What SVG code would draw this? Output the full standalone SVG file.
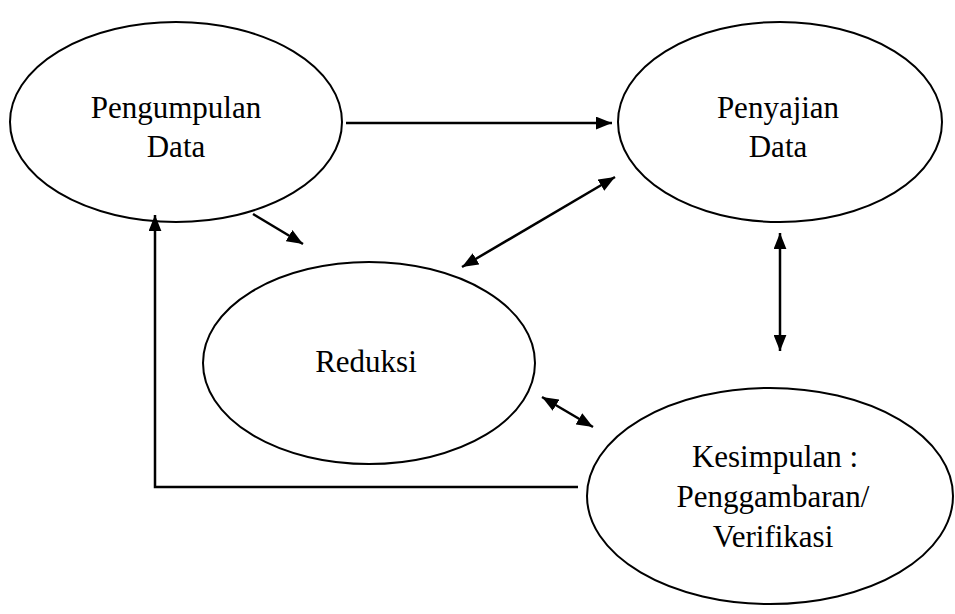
<svg xmlns="http://www.w3.org/2000/svg" width="955" height="614" viewBox="0 0 955 614">
<style>
.n ellipse{fill:#fff;stroke:#000;stroke-width:2}
.n text{font-family:'Liberation Serif','Times New Roman','DejaVu Serif',serif;font-size:31px;text-anchor:middle;fill:#000}
.c line,.c polyline{stroke:#000;stroke-width:2.5;fill:none}
</style>
<defs>
<marker id="ah" viewBox="0 0 10 8" refX="10" refY="4" markerWidth="6.5" markerHeight="5.2" markerUnits="strokeWidth" orient="auto-start-reverse">
<path d="M0,0 L10,4 L0,8 Z" fill="#000"/>
</marker>
</defs>
<g id="n1" class="n">
<ellipse cx="176" cy="122" rx="166" ry="100"/>
<text x="176" y="118">Pengumpulan</text>
<text x="176" y="157">Data</text>
</g>
<g id="n2" class="n">
<ellipse cx="780" cy="122" rx="162" ry="100"/>
<text x="778" y="118">Penyajian</text>
<text x="778" y="157">Data</text>
</g>
<g id="n3" class="n">
<ellipse cx="369" cy="363" rx="166" ry="101"/>
<text x="366" y="372">Reduksi</text>
</g>
<g id="n4" class="n">
<ellipse cx="770" cy="496" rx="183" ry="108"/>
<text x="775" y="467">Kesimpulan :</text>
<text x="773" y="507">Penggambaran/</text>
<text x="773" y="547">Verifikasi</text>
</g>
<g id="connectors" class="c">
<line x1="346" y1="123" x2="612" y2="123" marker-end="url(#ah)"/>
<line x1="253" y1="214" x2="303" y2="244" marker-end="url(#ah)"/>
<line x1="462" y1="267" x2="615" y2="177" marker-start="url(#ah)" marker-end="url(#ah)"/>
<line x1="542" y1="397" x2="593" y2="427" marker-start="url(#ah)" marker-end="url(#ah)"/>
<line x1="780" y1="233" x2="780" y2="351" marker-start="url(#ah)" marker-end="url(#ah)"/>
<polyline points="578,487 155,487 155,215" marker-end="url(#ah)"/>
</g>
</svg>
